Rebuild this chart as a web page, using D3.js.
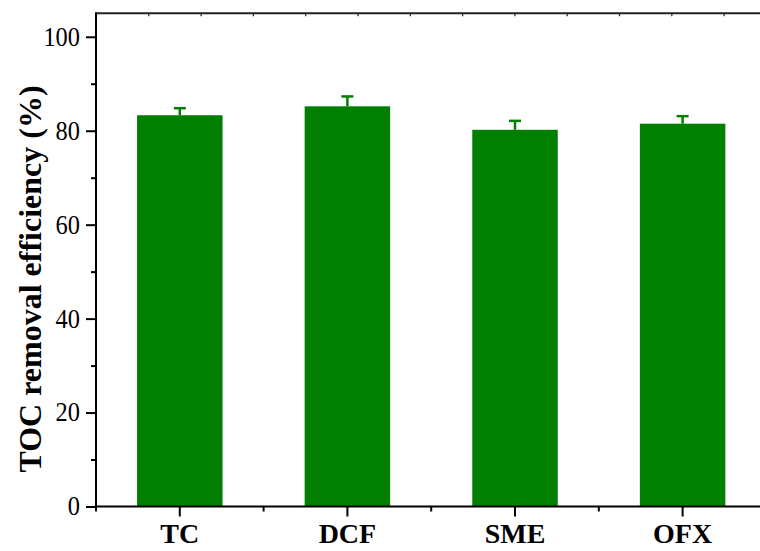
<!DOCTYPE html>
<html>
<head>
<meta charset="utf-8">
<script src="https://cdn.jsdelivr.net/npm/d3@7"></script>
<style>
  html, body { margin: 0; padding: 0; background: #fff; }
  svg { display: block; }
</style>
</head>
<body>
<svg id="chart"></svg>
<script>
// ── Data ──────────────────────────────────────────────────────────────────
const categories = ["TC", "DCF", "SME", "OFX"];
const removal    = [83.3, 85.2, 80.2, 81.5];
const errors     = [1.5, 2.1, 1.9, 1.6];
const yMajor     = [0, 20, 40, 60, 80, 100];
const yMinor     = [10, 30, 50, 70, 90];

const W = 760, H = 551;
const plotLeft = 96, plotTop = 13.3, plotBottom = 506.5;
const step = 167.6;
const green = "#007f00";
const font = "Liberation Serif, Times New Roman, serif";

const svg = d3.select("#chart").attr("width", W).attr("height", H);

// ── Scales ────────────────────────────────────────────────────────────────
const x = d3.scaleBand()
    .domain(categories)
    .range([plotLeft, plotLeft + step * categories.length])
    .paddingInner(0.49)
    .paddingOuter(0.245);

const y = d3.scaleLinear()
    .domain([0, 105])
    .range([plotBottom, plotTop]);

const data = categories.map((c, i) => ({ cat: c, value: removal[i], err: errors[i] }));

// ── Bars ──────────────────────────────────────────────────────────────────
svg.append("g").selectAll("rect")
    .data(data)
    .join("rect")
    .attr("x", d => x(d.cat))
    .attr("y", d => y(d.value))
    .attr("width", x.bandwidth())
    .attr("height", d => y(0) - y(d.value))
    .attr("fill", green);

// ── Error bars (upper half) ───────────────────────────────────────────────
const eb = svg.append("g")
    .attr("stroke", green)
    .attr("stroke-width", 2.5);

eb.selectAll("line.stem")
    .data(data)
    .join("line")
    .attr("class", "stem")
    .attr("x1", d => x(d.cat) + x.bandwidth() / 2)
    .attr("x2", d => x(d.cat) + x.bandwidth() / 2)
    .attr("y1", d => y(d.value))
    .attr("y2", d => y(d.value + d.err));

eb.selectAll("line.cap")
    .data(data)
    .join("line")
    .attr("class", "cap")
    .attr("x1", d => x(d.cat) + x.bandwidth() / 2 - 6)
    .attr("x2", d => x(d.cat) + x.bandwidth() / 2 + 6)
    .attr("y1", d => y(d.value + d.err))
    .attr("y2", d => y(d.value + d.err));

// ── Top frame with small inward ticks ─────────────────────────────────────
const xTop = d3.scaleLinear().domain([0, 1]).range([plotLeft, plotLeft + 52.3]);
svg.append("g")
    .attr("transform", `translate(0,${plotTop})`)
    .call(d3.axisTop(xTop).tickValues(d3.range(1, 13)).tickSize(-3).tickFormat(""))
    .call(g => g.select(".domain").attr("d", `M${plotLeft},0H${W + 10}`)
        .attr("stroke", "#222").attr("stroke-width", 2))
    .call(g => g.selectAll(".tick line").attr("stroke", "#222").attr("stroke-width", 1.2));

// ── Y axis ────────────────────────────────────────────────────────────────
svg.append("g")
    .attr("transform", `translate(${plotLeft},0)`)
    .call(d3.axisLeft(y).tickValues(yMinor).tickSize(5).tickFormat(""))
    .call(g => g.select(".domain").remove())
    .call(g => g.selectAll("line").attr("stroke", "#000").attr("stroke-width", 2));

svg.append("g")
    .attr("transform", `translate(${plotLeft},0)`)
    .attr("font-family", font)
    .call(d3.axisLeft(y).tickValues(yMajor).tickSize(10).tickPadding(6).tickSizeOuter(0))
    .call(g => g.select(".domain").attr("d", `M0,${plotBottom}V${plotTop - 1}`).attr("stroke-width", 2))
    .call(g => g.selectAll("line").attr("stroke", "#000").attr("stroke-width", 2))
    .call(g => g.selectAll("text")
        .style("font-family", font)
        .attr("font-size", 28)
        .attr("fill", "#000")
        .attr("dy", "0.3em")
        .attr("textLength", d => String(d).length * 12.2)
        .attr("lengthAdjust", "spacingAndGlyphs"));

// ── X axis ────────────────────────────────────────────────────────────────
const bounds = d3.range(categories.length).map(i => plotLeft + i * step);
svg.append("g")
    .attr("stroke", "#000")
    .attr("stroke-width", 2)
    .selectAll("line")
    .data(bounds)
    .join("line")
    .attr("x1", d => d).attr("x2", d => d)
    .attr("y1", plotBottom).attr("y2", plotBottom + 5);

svg.append("g")
    .attr("transform", `translate(0,${plotBottom})`)
    .call(d3.axisBottom(x).tickSize(10).tickPadding(6).tickSizeOuter(0))
    .call(g => g.select(".domain").attr("d", `M${plotLeft - 1},0H${W + 10}`).attr("stroke-width", 2))
    .call(g => g.selectAll("line").attr("stroke", "#000").attr("stroke-width", 2))
    .call(g => g.selectAll("text")
        .style("font-family", font)
        .attr("font-size", 28)
        .attr("font-weight", "bold")
        .attr("fill", "#000")
        .attr("dy", "0.74em"));

// ── Axis label ────────────────────────────────────────────────────────────
svg.append("text")
    .attr("transform", `translate(41,279) rotate(-90)`)
    .attr("text-anchor", "middle")
    .style("font-family", font)
    .attr("font-size", 32)
    .attr("font-weight", "bold")
    .attr("fill", "#000")
    .text("TOC removal efficiency (%)");
</script>
</body>
</html>
